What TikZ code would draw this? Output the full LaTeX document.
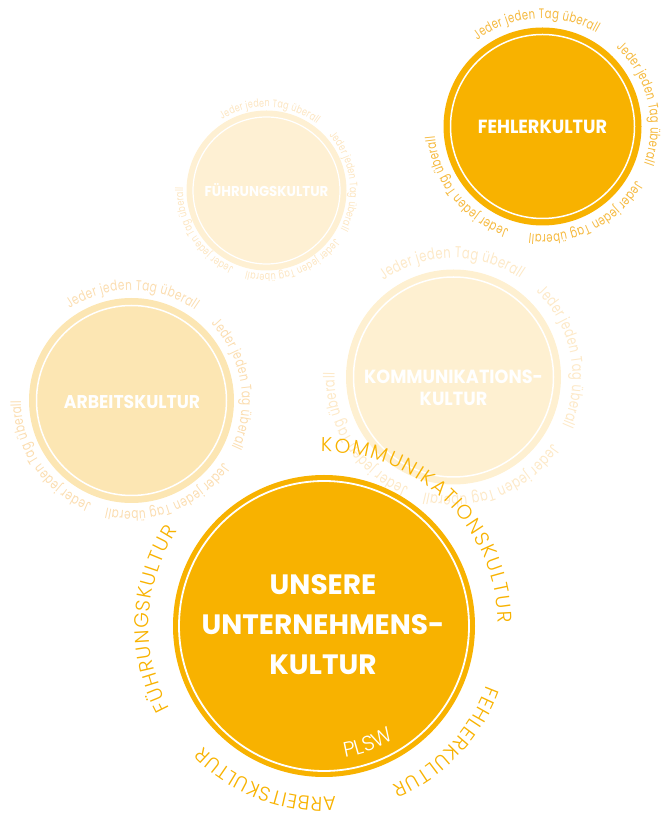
\documentclass[tikz,border=0pt]{standalone}
\usepackage{fontspec}
\setmainfont{Poppins}
\newfontfamily\jfont[FakeStretch=0.73]{Poppins}
\newfontfamily\hfont[FakeStretch=0.93]{Poppins}
\newfontfamily\lfont{Poppins Light}
\usetikzlibrary{decorations.text}
\definecolor{orng}{HTML}{F8B200}
\definecolor{lightA}{HTML}{FCE6B3}
\definecolor{lightU}{HTML}{FEF0D3}
\definecolor{lightK}{HTML}{FEF0D1}
\definecolor{jF}{HTML}{F5B93E}
\definecolor{jA}{HTML}{FBDDB0}
\definecolor{jU}{HTML}{FCE5C0}
\definecolor{jK}{HTML}{FDE9C8}
\newcommand\jederring[6]{%
  \foreach \s in {#6}{%
    \path[shift={(#1)},decorate,decoration={text along path,text align=fit to path,
      text={|\jfont\fontsize{#3}{#3}\selectfont\color{#4}|Jeder jeden Tag überall}}]
      (\s:#2) arc[start angle=\s,end angle={\s-#5},radius=#2];
  }}
\newcommand\biglabel[6]{%
  \path[shift={(#1)},decorate,decoration={text along path,text align=fit to path,
    text={|\lfont\fontsize{#6}{#6}\selectfont\color{orng}|#5}}]
    (#3:#2) arc[start angle=#3,end angle=#4,radius=#2];}
\tikzset{
  disc/.style={circle,inner sep=0pt,outer sep=0pt,draw=none},
  ring/.style={draw=white,line width=1.5pt},
  lbl/.style={text=white,align=center,inner sep=0pt}
}
\begin{document}
\begin{tikzpicture}[x=1pt,y=1pt]
\useasboundingbox (0,0) rectangle (663,814);
% small circles
\node[disc,fill=lightU,minimum size=160pt] (U) at (266.5,623.5) {};
\draw[ring,line width=1.2pt] (U) circle (73.5);
\node[lbl,font=\hfont\bfseries\fontsize{14.3}{14.3}\selectfont] (tU) at (266.5,624) {FÜHRUNGSKULTUR};
\jederring{U}{83.5}{10.9}{jU}{69}{122,41.5,-35,-113}

\node[disc,fill=lightA,minimum size=205pt] (A) at (131.5,413.5) {};
\draw[ring] (A) circle (95);
\node[lbl,font=\hfont\bfseries\fontsize{18.5}{18.5}\selectfont] (tA) at (132,412) {ARBEITSKULTUR};
\jederring{A}{110.5}{14.3}{jA}{69}{124,44,-34,-111}

\node[disc,fill=lightK,minimum size=215pt] (K) at (453.5,437) {};
\draw[ring] (K) circle (100);
\node[lbl,font=\hfont\bfseries\fontsize{19}{22}\selectfont] (tK) at (453.5,426) {KOMMUNIKATIONS-\\KULTUR};
\jederring{K}{119}{15.7}{jK}{70}{126,46,-34,-112}

\node[disc,fill=orng,minimum size=198pt] (F) at (542.5,687.5) {};
\draw[ring] (F) circle (92);
\node[lbl,font=\hfont\bfseries\fontsize{19}{19}\selectfont] (tF) at (542.5,687) {FEHLERKULTUR};
\jederring{F}{108}{13.7}{jF}{67}{127,47,-30,-108}

% big circle
\node[disc,fill=orng,minimum size=302pt] (B) at (324,188) {};
\draw[ring,line width=1.8pt] (B) circle (145);
\node[lbl,font=\bfseries\fontsize{28}{40}\selectfont] (tB) at (323,189) {UNSERE\\UNTERNEHMENS-\\KULTUR};
\path[shift={(B)},decorate,decoration={text along path,text align=fit to path,
    text={|\lfont\fontsize{21}{21}\selectfont\color{white}|PLSW}}]
    (-81:133) arc[start angle=-81,end angle=-58,radius=133];
\biglabel{B}{174}{91}{1}{KOMMUNIKATIONSKULTUR}{20}
\biglabel{B}{173}{-20}{-67}{FEHLERKULTUR}{20}
\biglabel{B}{171}{-86}{-135}{ARBEITSKULTUR}{20}
\biglabel{B}{175}{208}{147}{FÜHRUNGSKULTUR}{20}
\end{tikzpicture}
\end{document}
